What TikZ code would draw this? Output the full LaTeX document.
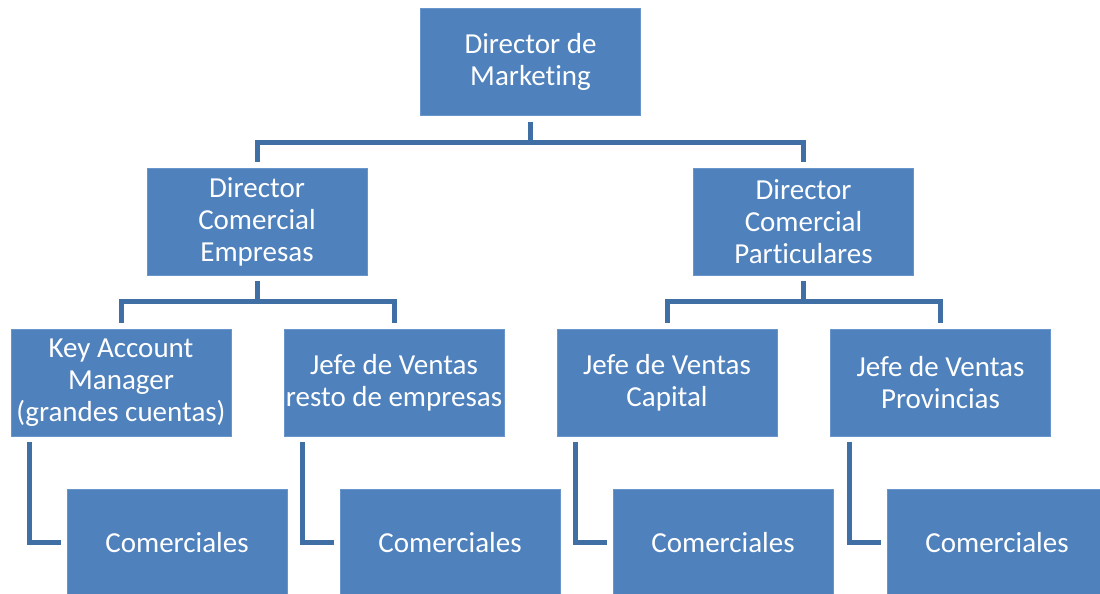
\documentclass[tikz,border=0pt]{standalone}
\usepackage{fontspec}
\setmainfont{Carlito}[Ligatures=NoCommon]
\definecolor{boxblue}{RGB}{79,129,189}
\definecolor{boxedge}{RGB}{104,150,204}
\definecolor{linkblue}{RGB}{64,111,166}
\begin{document}
\begin{tikzpicture}[
    x=1pt, y=1pt,
    box/.style={rectangle, fill=boxblue, draw=boxedge, line width=0.6pt,
      minimum width=220pt, minimum height=107pt, inner sep=0pt,
      text=white, align=center, font=\fontsize{29}{32}\selectfont},
    link/.style={draw=linkblue, line width=5pt, shorten <=6pt, shorten >=6pt}
]
\useasboundingbox (0,0) rectangle (1100,-594);

% level 1
\node[box] (dm) at (530.5,-62) {Director de\\Marketing};

% level 2
\node[box] (dce) at (257,-221.5) {Director\\Comercial\\Empresas};
\node[box] (dcp) at (803.5,-221.5) {Director\\Comercial\\Particulares};

% level 3
\node[box] (kam) at (121,-382.5) {Key Account\\Manager\\(grandes cuentas)};
\node[box] (jvr) at (394,-382.5) {Jefe de Ventas\\resto de empresas};
\node[box] (jvc) at (667,-382.5) {Jefe de Ventas\\Capital};
\node[box] (jvp) at (940.5,-382.5) {Jefe de Ventas\\Provincias};

% level 4
\node[box] (c1) at (177,-542.5) {Comerciales};
\node[box] (c2) at (450,-542.5) {Comerciales};
\node[box] (c3) at (723,-542.5) {Comerciales};
\node[box] (c4) at (997,-542.5) {Comerciales};

% connectors
\draw[link] (dm.south) -- ++(0,-27) -| (dce.north);
\draw[link] (dm.south) -- ++(0,-27) -| (dcp.north);
\draw[link] (dce.south) -- ++(0,-26) -| (kam.north);
\draw[link] (dce.south) -- ++(0,-26) -| (jvr.north);
\draw[link] (dcp.south) -- ++(0,-26) -| (jvc.north);
\draw[link] (dcp.south) -- ++(0,-26) -| (jvp.north);

\draw[link] ([xshift=19pt]kam.south west) |- (c1.west);
\draw[link] ([xshift=19pt]jvr.south west) |- (c2.west);
\draw[link] ([xshift=19pt]jvc.south west) |- (c3.west);
\draw[link] ([xshift=19pt]jvp.south west) |- (c4.west);
\end{tikzpicture}
\end{document}
